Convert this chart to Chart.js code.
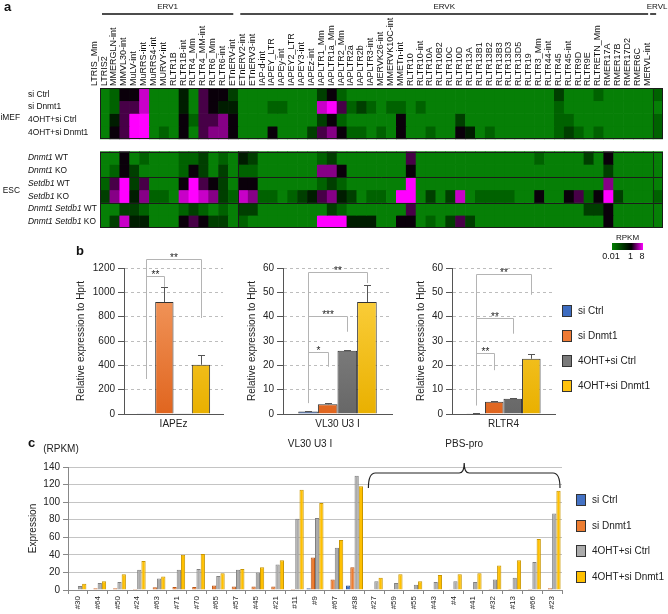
<!DOCTYPE html>
<html>
<head>
<meta charset="utf-8">
<script src="https://cdn.jsdelivr.net/npm/chart.js@4.4.0/dist/chart.umd.min.js"></script>
<style>
  body { margin: 0; background: #fff; }
  #fig { position: relative; width: 668px; height: 614px; overflow: hidden; font-family: "Liberation Sans", Arial, sans-serif; }
  canvas { position: absolute; }
  .tag { position: absolute; font-weight: bold; font-size: 13px; line-height: 13px; color: #111; }
</style>
</head>
<body>
<div id="fig">
  <canvas id="heat" width="668" height="262" style="left:0;top:0"></canvas>
  <canvas id="b1" width="180" height="200" style="left:55px;top:240px"></canvas>
  <canvas id="b2" width="170" height="200" style="left:235px;top:240px"></canvas>
  <canvas id="b3" width="258" height="200" style="left:410px;top:240px"></canvas>
  <canvas id="c" width="668" height="182" style="left:0;top:432px"></canvas>
  <div class="tag" style="left:4px;top:0px">a</div>
  <div class="tag" style="left:76px;top:244px">b</div>
  <div class="tag" style="left:28px;top:436px">c</div>
</div>
<script>
// ---------- panel a : heatmap ----------
const heatCols = [
  'LTRIS_Mm','LTRIS2','MMERGLN-int','MMVL30-int','MuLV-int','MuRRS-int','MuRRS4-int','MURVY-int',
  'RLTR1B','RLTR1B-int','RLTR4_Mm','RLTR4_MM-int','RLTR6_Mm','RLTR6-int',
  'ETnERV-int','ETnERV2-int','ETnERV3-int','IAP-d-int','IAPEY_LTR','IAPEy-int','IAPEY2_LTR','IAPEY3-int',
  'IAPEz-int','IAPLTR1_Mm','IAPLTR1a_Mm','IAPLTR2_Mm','IAPLTR2a','IAPLTR2b','IAPLTR3-int','MERVK26-int',
  'MMERVK10C-int','MMETn-int','RLTR10','RLTR10-int','RLTR10A','RLTR10B2','RLTR10C','RLTR10D','RLTR13A',
  'RLTR13B1','RLTR13B2','RLTR13B3','RLTR13D3','RLTR13D5','RLTR19','RLTR3_Mm','RLTR44-int','RLTR45',
  'RLTR45-int','RLTR9D','RLTR9E','RLTRETN_Mm','RMER17A','RMER17B','RMER17D2','RMER6C',
  'MERVL-int'
];
const ervGroups = ['ERV1', 'ERVK', 'ERVL'];
const ervGroupSizes = [14, 42, 1];

const imefRowNames = ['si Ctrl', 'si Dnmt1', '4OHT+si Ctrl', '4OHT+si Dnmt1'];
const escRowNames = ['_Dnmt1_ WT', '_Dnmt1_ KO', '_Setdb1_ WT', '_Setdb1_ KO', '_Dnmt1 Setdb1_ WT', '_Dnmt1 Setdb1_ KO'];

const imefSiCtrl   = [1,2,5,5,8,1,1,1,4,1,6,5,5,3, 1,1,1,1,1,1,1,1,3,5,2,1,1,1,1,1,1,1,1,1,1,1,1,1,1,1,1,1,1,1,1,1,3,1,1,1,2,1,1,1,1,1, 2];
const imefSiDnmt1  = [1,2,6,6,8,1,1,1,4,1,6,5,4,4, 1,1,1,2,2,1,1,1,8,9,6,2,3,2,1,2,2,1,2,1,1,1,1,1,1,1,1,1,1,1,1,1,2,1,1,1,1,1,1,1,1,1, 1];
const imefOhtCtrl  = [1,4,6,9,9,1,1,1,5,2,6,6,7,5, 1,1,1,1,1,1,1,1,3,5,2,1,1,1,1,1,5,1,1,1,1,1,3,1,1,1,1,1,1,1,1,1,2,2,1,1,1,1,1,1,1,1, 2];
const imefOhtDnmt1 = [1,5,6,9,9,1,2,1,5,1,6,7,7,5, 1,1,1,5,1,1,1,3,6,7,5,2,2,1,2,1,5,1,1,2,1,1,5,4,1,2,1,1,1,1,1,1,2,3,2,1,2,1,1,1,1,1, 2];
const escDnmt1WT   = [1,1,5,1,2,1,1,1,2,2,3,1,2,1, 4,3,1,1,1,1,1,1,2,3,1,1,1,1,1,1,1,6,1,1,1,1,1,1,1,1,1,1,1,1,2,1,1,1,1,3,1,5,1,1,1,1, 1];
const escDnmt1KO   = [1,2,5,3,1,1,1,1,2,5,3,1,3,1, 2,2,1,1,1,1,1,1,7,7,5,1,1,1,1,1,1,5,1,1,1,1,1,1,1,1,1,1,1,1,1,1,1,1,1,1,1,3,1,1,1,1, 1];
const escSetdb1WT  = [2,6,9,3,6,1,1,1,5,9,6,5,3,1, 5,5,1,1,1,1,1,1,2,3,2,1,1,1,1,1,1,9,1,1,1,1,1,1,1,1,1,1,1,1,1,1,1,1,1,1,1,7,1,1,1,1, 1];
const escSetdb1KO  = [3,7,9,4,7,2,2,1,8,9,8,7,3,2, 8,7,2,2,1,2,3,4,6,7,4,3,1,2,2,1,9,9,1,3,1,3,8,1,2,2,2,2,1,1,5,1,1,5,6,2,5,9,3,1,1,1, 2];
const escDsWT      = [1,1,3,3,2,1,1,1,2,3,2,1,2,1, 3,3,1,1,1,1,1,1,1,3,2,1,1,1,1,1,1,6,1,1,1,1,1,1,1,1,1,1,1,1,1,1,1,1,1,3,3,5,1,1,1,1, 1];
const escDsKO      = [1,3,8,4,4,1,1,1,5,6,5,3,3,1, 2,1,1,1,1,1,1,1,9,9,9,4,4,4,1,1,5,5,1,2,1,3,6,3,1,1,1,1,1,1,1,1,1,1,1,1,1,5,1,1,1,1, 1];

const imefHeat = [imefSiCtrl, imefSiDnmt1, imefOhtCtrl, imefOhtDnmt1];
const escHeat = [escDnmt1WT, escDnmt1KO, escSetdb1WT, escSetdb1KO, escDsWT, escDsKO];

// ---------- panel b : qPCR ----------
const seriesNames = ['si Ctrl', 'si Dnmt1', '4OHT+si Ctrl', '4OHT+si Dnmt1'];
const iapezMean = [2, 920, 3, 405];
const iapezErr  = [0, 120, 0, 78];
const vl30Mean  = [1, 4, 26, 46];
const vl30Err   = [0.2, 0.6, 0.4, 7];
const rltr4Mean = [0.3, 5, 6.3, 22.7];
const rltr4Err  = [0.05, 0.4, 0.4, 1.8];

const iapezSig = [
  {from: 0, to: 1, top: 1134, legFrom: 288, legTo: 1046, label: '**'},
  {from: 0, to: 3, top: 1274, legFrom: 288, legTo: 789, label: '**'}
];
const vl30Sig = [
  {from: 0, to: 3, top: 58.4, legFrom: 4.5, legTo: 53.8, label: '**'},
  {from: 0, to: 2, top: 40.3, legFrom: 4.5, legTo: 33.8, label: '***'},
  {from: 0, to: 1, top: 25.6, legFrom: 4.5, legTo: 19.4, label: '*'}
];
const rltr4Sig = [
  {from: 0, to: 3, top: 57.5, legFrom: 3.6, legTo: 49, label: '**'},
  {from: 0, to: 2, top: 39.4, legFrom: 3.6, legTo: 33, label: '**'},
  {from: 0, to: 1, top: 25, legFrom: 3.6, legTo: 18, label: '**'}
];

// ---------- panel c : RNA-seq of single loci ----------
const lociNames = ['#30','#64','#50','#24','#63','#71','#70','#65','#57','#45','#21','#11','#9','#67','#38',
                   '#27','#59','#55','#43','#4','#41','#32','#13','#66','#23'];
const rpkmSiCtrl    = [0, 0, 0, 0, 0, 0, 0, 0, 0.5, 0, 0.5, 0, 2, 0.5, 5, 0, 0, 0, 0, 0, 0, 0, 0, 0, 0];
const rpkmSiDnmt1   = [0.5, 2, 2, 1, 3, 3.5, 3.5, 5, 4, 4, 4, 1, 37, 12, 26, 0.3, 0.3, 0.3, 0.5, 0.3, 0.5, 1, 1, 1, 2];
const rpkmOhtCtrl   = [4.5, 8, 9, 23, 13, 23, 24, 16, 23, 20, 29, 81, 82, 48, 130, 10, 8, 6, 9, 10, 9, 12, 14, 32, 87];
const rpkmOhtDnmt1  = [7, 10, 18, 33, 15.5, 40, 41, 19, 24, 26, 34, 114, 99, 57, 118, 14, 18, 10, 17, 18, 19, 28, 34, 58, 113];
const pbsProFirst = 15;

// ---------- styles ----------
const FONT = '"Liberation Sans", Arial, Helvetica, sans-serif';
Chart.defaults.font.family = FONT;
Chart.defaults.color = '#222';
Chart.defaults.animation = false;
Chart.defaults.plugins.legend.display = false;
Chart.defaults.plugins.tooltip.enabled = false;

const heatPalette = ['#0d920d','#067f06','#006200','#003f00','#001d00','#0a000a','#470047','#860086','#c800c8','#ff00ff'];
const seriesColors = ['#3D6CC0', '#EF7B35', '#7A7A7A', '#FFC20E'];
const seriesTop    = ['#5A88D6', '#F5A068', '#929292', '#FFD549'];
const seriesBottom = ['#2C56A3', '#E0651F', '#676767', '#E9B000'];
const cFill = ['#4472C4', '#ED7D31', '#ABABAB', '#FFC000'];
const cEdge = ['#2B4E8C', '#B8581C', '#808080', '#C89600'];

function drawRichText(ctx, text, x, y, size) {
  text.split('_').forEach((part, i) => {
    ctx.font = (i % 2 ? 'italic ' : '') + size + 'px ' + FONT;
    ctx.fillText(part, x, y);
    x += ctx.measureText(part).width;
  });
}

const heatDecor = {
  id: 'heatDecor',
  afterDatasetsDraw(chart) {
    const {ctx, chartArea: a, scales: {y}} = chart;
    const w = (a.right - a.left) / heatCols.length;
    const edge = i => a.left + i * w;
    ctx.save();
    // block outlines and separators
    ctx.lineWidth = 1;
    ctx.strokeStyle = '#1b1b1b';
    const blocks = [[0, 4], [5, 11]];
    blocks.forEach(([r0, r1]) => {
      ctx.strokeRect(a.left + 0.5, Math.round(y.getPixelForValue(r0)) + 0.5, a.right - a.left - 1, Math.round(y.getPixelForValue(r1) - y.getPixelForValue(r0)) - 1);
    });
    ctx.beginPath();
    [7, 9].forEach(r => {
      const yy = Math.round(y.getPixelForValue(r)) + 0.5;
      ctx.moveTo(a.left, yy); ctx.lineTo(a.right, yy);
    });
    const xv = Math.round(edge(14)) + 0.5;
    ctx.moveTo(xv, y.getPixelForValue(5)); ctx.lineTo(xv, y.getPixelForValue(11));
    ctx.stroke();
    ctx.strokeStyle = '#123312';
    ctx.beginPath();
    const xl = Math.round(edge(56)) + 0.5;
    blocks.forEach(([r0, r1]) => { ctx.moveTo(xl, y.getPixelForValue(r0)); ctx.lineTo(xl, y.getPixelForValue(r1)); });
    ctx.stroke();

    // family headers
    let start = 0;
    ctx.fillStyle = '#111';
    ctx.strokeStyle = '#111';
    ctx.lineWidth = 1.5;
    ctx.textAlign = 'center';
    ctx.textBaseline = 'middle';
    ctx.font = '8px ' + FONT;
    ervGroups.forEach((g, k) => {
      const n = ervGroupSizes[k];
      const x1 = edge(start), x2 = edge(start + n);
      let l1 = x1 + 2, l2 = x2 - 5;
      if (n === 1) { l1 = x1 - 3; l2 = x1 + 3; }
      ctx.beginPath(); ctx.moveTo(l1, 14); ctx.lineTo(l2, 14); ctx.stroke();
      ctx.fillText(g, n === 1 ? x1 + 4 : (l1 + l2) / 2, 7);
      start += n;
    });

    // row labels
    ctx.textAlign = 'left';
    ctx.fillStyle = '#111';
    imefRowNames.forEach((t, i) => drawRichText(ctx, t, 28, y.getPixelForValue(i + 0.5), 8.4));
    escRowNames.forEach((t, i) => drawRichText(ctx, t, 28, y.getPixelForValue(i + 5.5), 8.4));
    ctx.textAlign = 'right';
    ctx.font = '8.4px ' + FONT;
    ctx.fillText('iMEF', 20, y.getPixelForValue(2.3));
    ctx.fillText('ESC', 20, y.getPixelForValue(8.1));

    // RPKM colour key
    const kx = 612, ky = 243, kw = 31, kh = 7;
    const g = ctx.createLinearGradient(kx, 0, kx + kw, 0);
    g.addColorStop(0, '#008000'); g.addColorStop(0.62, '#000000'); g.addColorStop(1, '#ff00ff');
    ctx.fillStyle = g;
    ctx.fillRect(kx, ky, kw, kh);
    ctx.fillStyle = '#111';
    ctx.textAlign = 'center';
    ctx.font = '8px ' + FONT;
    ctx.fillText('RPKM', kx + kw / 2, 238);
    ctx.font = '9px ' + FONT;
    ctx.fillText('0.01', kx - 1, 257);
    ctx.fillText('1', kx + kw * 0.6, 257);
    ctx.fillText('8', kx + kw - 1, 257);
    ctx.restore();
  }
};

const heatRows = imefHeat.map((lv, i) => ({lv, r: i})).concat(escHeat.map((lv, i) => ({lv, r: i + 5})));

new Chart(document.getElementById('heat'), {
  type: 'bar',
  data: {
    labels: heatCols,
    datasets: heatRows.map(({lv, r}) => ({
      data: lv.map(() => [r, r + 1]),
      backgroundColor: lv.map(v => heatPalette[v]),
      grouped: false,
      barPercentage: 1,
      categoryPercentage: 1,
      borderWidth: 0
    }))
  },
  options: {
    responsive: false,
    layout: {padding: {left: 100, right: 5, top: 0, bottom: 34}},
    scales: {
      x: {
        position: 'top',
        grid: {display: false, drawTicks: false},
        border: {display: false},
        ticks: {autoSkip: false, minRotation: 90, maxRotation: 90, padding: 2, color: '#111', font: {size: 9}},
        afterFit: s => { s.height = 88; }
      },
      y: {display: false, min: 0, max: 11, reverse: true}
    }
  },
  plugins: [heatDecor]
});

// ---------- panel b ----------
const sigPlugin = {
  id: 'sig',
  afterDatasetsDraw(chart, args, opts) {
    const {ctx, scales: {y}} = chart;
    const cx = i => chart.getDatasetMeta(i).data[0].x;
    ctx.save();
    ctx.lineWidth = 1;
    ctx.strokeStyle = '#555';
    opts.err.forEach((e, i) => {
      if (!e) return;
      const v = chart.data.datasets[i].data[0];
      const x = Math.round(cx(i)) + 0.5;
      const y0 = y.getPixelForValue(v), y1 = Math.round(y.getPixelForValue(v + e)) + 0.5;
      ctx.beginPath();
      ctx.moveTo(x, y0); ctx.lineTo(x, y1);
      ctx.moveTo(x - 3.5, y1); ctx.lineTo(x + 3.5, y1);
      ctx.stroke();
    });
    ctx.strokeStyle = '#b4b4b4';
    ctx.fillStyle = '#222';
    ctx.font = '10px ' + FONT;
    ctx.textAlign = 'center';
    ctx.textBaseline = 'alphabetic';
    opts.brackets.forEach(b => {
      const x1 = Math.round(cx(b.from)) + 0.5, x2 = Math.round(cx(b.to)) + 0.5;
      const yt = Math.round(y.getPixelForValue(b.top)) + 0.5;
      ctx.beginPath();
      ctx.moveTo(x1, y.getPixelForValue(b.legFrom)); ctx.lineTo(x1, yt);
      ctx.lineTo(x2, yt); ctx.lineTo(x2, y.getPixelForValue(b.legTo));
      ctx.stroke();
      ctx.fillText(b.label, (x1 + x2) / 2, yt + 1.5);
    });
    ctx.restore();
  }
};

const swatchLegend = {
  id: 'swatch',
  afterDraw(chart, args, o) {
    if (!o || o.x === undefined) return;
    const ctx = chart.ctx;
    ctx.save();
    ctx.font = '10px ' + FONT;
    ctx.textBaseline = 'middle';
    ctx.textAlign = 'left';
    seriesNames.forEach((n, i) => {
      const yy = Math.round(o.y + i * o.gap);
      ctx.fillStyle = o.colors[i];
      ctx.fillRect(o.x, yy - 6, 10, 12);
      ctx.strokeStyle = '#333';
      ctx.lineWidth = 1;
      ctx.strokeRect(o.x + 0.5, yy - 5.5, 9, 11);
      ctx.fillStyle = '#222';
      ctx.fillText(n, o.x + 16, yy);
    });
    ctx.restore();
  }
};

function barGradient(i) {
  return c => {
    const a = c.chart.chartArea;
    if (!a) return seriesColors[i];
    const g = c.chart.ctx.createLinearGradient(0, a.top, 0, a.bottom);
    g.addColorStop(0, seriesTop[i]);
    g.addColorStop(1, seriesBottom[i]);
    return g;
  };
}

function qpcrChart(id, target, means, errs, sig, yMax, step, look, legend) {
  return new Chart(document.getElementById(id), {
    type: 'bar',
    data: {
      labels: [target],
      datasets: means.map((v, i) => ({
        label: seriesNames[i],
        data: [v],
        backgroundColor: barGradient(i),
        borderColor: '#333',
        borderWidth: 1,
        borderSkipped: 'bottom',
        categoryPercentage: look.cat,
        barPercentage: 1
      }))
    },
    options: {
      responsive: false,
      layout: {padding: {left: 0, right: look.padR, top: 28, bottom: 6}},
      scales: {
        x: {
          grid: {display: false, drawTicks: false},
          border: {color: '#555'},
          ticks: {font: {size: 10}, padding: 4, color: '#222'},
          afterFit: s => { s.height = 20; }
        },
        y: {
          min: 0, max: yMax,
          afterFit: s => { s.width = look.yW; },
          ticks: {stepSize: step, font: {size: 10}, padding: 3, color: '#222', callback: v => String(v)},
          grid: {color: '#bdbdbd', tickColor: '#555', tickLength: 6, tickBorderDash: []},
          border: {color: '#555', dash: [3, 3]},
          title: {display: true, text: 'Relative expression to Hprt', font: {size: 10}, color: '#222',
                  padding: {top: look.titlePad, bottom: 0}}
        }
      },
      plugins: {
        sig: {err: errs, brackets: sig},
        swatch: legend || {}
      }
    },
    plugins: [sigPlugin, swatchLegend]
  });
}

qpcrChart('b1', 'IAPEz', iapezMean, iapezErr, iapezSig, 1200, 200, {yW: 69, padR: 12, titlePad: 20, cat: 0.74});
qpcrChart('b2', 'VL30 U3 I', vl30Mean, vl30Err, vl30Sig, 60, 10, {yW: 48, padR: 13, titlePad: 11, cat: 0.72});
qpcrChart('b3', 'RLTR4', rltr4Mean, rltr4Err, rltr4Sig, 60, 10, {yW: 42, padR: 113, titlePad: 5, cat: 0.72},
          {x: 152, y: 71, gap: 25, colors: seriesColors});

// ---------- panel c ----------
const cDecor = {
  id: 'cDecor',
  afterDraw(chart) {
    const {ctx, chartArea: a, scales: {x}} = chart;
    const half = (x.getPixelForValue(1) - x.getPixelForValue(0)) / 2;
    ctx.save();
    ctx.fillStyle = '#222';
    ctx.font = '10px ' + FONT;
    ctx.textAlign = 'center';
    ctx.textBaseline = 'middle';
    ctx.fillText('(RPKM)', a.left - 7, a.top - 18);
    ctx.fillText('VL30 U3 I', x.getPixelForValue(12) - 5, a.top - 23);
    const bx1 = x.getPixelForValue(pbsProFirst) - half + 4;
    const bx2 = x.getPixelForValue(lociNames.length - 1) + half - 2;
    const bm = (bx1 + bx2) / 2;
    ctx.fillText('PBS-pro', bm, a.top - 23);
    const yTop = a.top + 6, yEnd = a.top + 21, yPeak = a.top - 4;
    ctx.strokeStyle = '#222';
    ctx.lineWidth = 1.2;
    ctx.beginPath();
    ctx.moveTo(bx1, yEnd);
    ctx.quadraticCurveTo(bx1, yTop, bx1 + 7, yTop);
    ctx.lineTo(bm - 5, yTop);
    ctx.quadraticCurveTo(bm, yTop, bm, yPeak);
    ctx.quadraticCurveTo(bm, yTop, bm + 5, yTop);
    ctx.lineTo(bx2 - 7, yTop);
    ctx.quadraticCurveTo(bx2, yTop, bx2, yEnd);
    ctx.stroke();
    ctx.restore();
  }
};

const rpkmSeries = [rpkmSiCtrl, rpkmSiDnmt1, rpkmOhtCtrl, rpkmOhtDnmt1];
new Chart(document.getElementById('c'), {
  type: 'bar',
  data: {
    labels: lociNames,
    datasets: rpkmSeries.map((vals, i) => ({
      label: seriesNames[i],
      data: vals,
      backgroundColor: cFill[i],
      borderColor: cEdge[i],
      borderWidth: 1,
      borderSkipped: 'bottom',
      categoryPercentage: 0.86,
      barPercentage: 1
    }))
  },
  options: {
    responsive: false,
    layout: {padding: {left: 0, right: 106, top: 35, bottom: 0}},
    scales: {
      x: {
        grid: {display: true, drawOnChartArea: false, tickLength: 4, color: '#888'},
        border: {color: '#888'},
        ticks: {autoSkip: false, minRotation: 90, maxRotation: 90, padding: 2, font: {size: 8}, color: '#222'},
        afterFit: s => { s.height = 24; }
      },
      y: {
        min: 0, max: 140,
        afterFit: s => { s.width = 68; },
        ticks: {stepSize: 20, font: {size: 10}, padding: 3, color: '#222'},
        grid: {color: '#c4c4c4', tickColor: '#888', tickLength: 5},
        border: {color: '#888'},
        title: {display: true, text: 'Expression', font: {size: 10}, color: '#222', padding: {top: 27, bottom: 0}}
      }
    },
    plugins: {
      swatch: {x: 576, y: 68, gap: 25.5, colors: cFill}
    }
  },
  plugins: [swatchLegend, cDecor]
});
</script>
</body>
</html>
